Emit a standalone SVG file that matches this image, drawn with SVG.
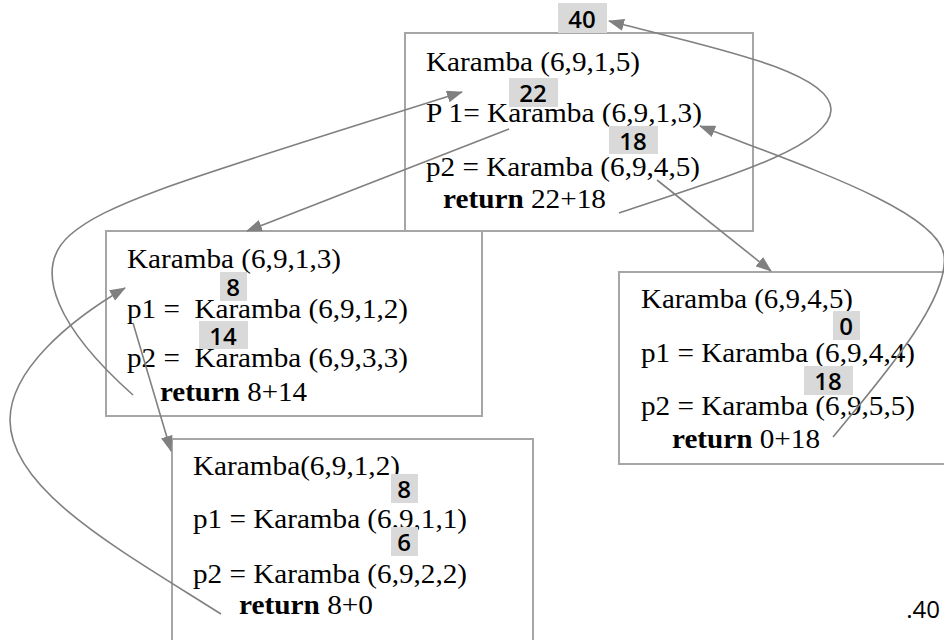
<svg xmlns="http://www.w3.org/2000/svg" width="944" height="640" viewBox="0 0 944 640">
<style>
.box{fill:#fff;stroke:#a6a6a6;stroke-width:2}
.t{font-family:"Liberation Serif","Times New Roman",serif;font-size:28px;fill:#000}
.b{font-weight:bold}
.lb{fill:#d9d9d9}
.lt{font-family:"Open Sans","DejaVu Sans",sans-serif;font-size:24px;font-weight:600;fill:#000;text-anchor:middle}
.c{fill:none;stroke:#808080;stroke-width:1.6;marker-end:url(#ah)}
</style>
<defs>
<marker id="ah" markerUnits="userSpaceOnUse" viewBox="0 0 16 12" refX="15" refY="6" markerWidth="16" markerHeight="12" orient="auto">
<path d="M0,0 L16,6 L0,12 z" fill="#808080"/>
</marker>
</defs>
<rect width="944" height="640" fill="#fff"/>

<g id="node-k1915">
<rect class="box" x="405" y="33" width="348" height="198"/>
<text class="t" x="426" y="71" textLength="214" lengthAdjust="spacingAndGlyphs">Karamba (6,9,1,5)</text>
<text class="t" x="426" y="122" textLength="276" lengthAdjust="spacingAndGlyphs">P 1= Karamba (6,9,1,3)</text>
<text class="t" x="426" y="176" textLength="274" lengthAdjust="spacingAndGlyphs">p2 = Karamba (6,9,4,5)</text>
<text class="t" x="443" y="208" textLength="163" lengthAdjust="spacingAndGlyphs"><tspan class="b">return</tspan> 22+18</text>
<rect class="lb" x="509" y="78" width="49" height="29"/>
<text class="lt" x="533" y="102">22</text>
<rect class="lb" x="609" y="126" width="49" height="28"/>
<text class="lt" x="633" y="150">18</text>
</g>

<g id="node-k1913">
<rect class="box" x="106" y="231" width="376" height="185"/>
<text class="t" x="127" y="268" textLength="214" lengthAdjust="spacingAndGlyphs">Karamba (6,9,1,3)</text>
<text class="t" x="127" y="318" textLength="281" lengthAdjust="spacingAndGlyphs" xml:space="preserve">p1 =  Karamba (6,9,1,2)</text>
<text class="t" x="127" y="367" textLength="281" lengthAdjust="spacingAndGlyphs" xml:space="preserve">p2 =  Karamba (6,9,3,3)</text>
<text class="t" x="160" y="401" textLength="147" lengthAdjust="spacingAndGlyphs"><tspan class="b">return</tspan> 8+14</text>
<rect class="lb" x="220" y="272" width="27" height="29"/>
<text class="lt" x="233" y="296">8</text>
<rect class="lb" x="199" y="321" width="49" height="28"/>
<text class="lt" x="223" y="345">14</text>
</g>

<g id="node-k1945">
<rect class="box" x="619" y="272" width="335" height="192"/>
<text class="t" x="641" y="308" textLength="212" lengthAdjust="spacingAndGlyphs">Karamba (6,9,4,5)</text>
<text class="t" x="641" y="362" textLength="274" lengthAdjust="spacingAndGlyphs">p1 = Karamba (6,9,4,4)</text>
<text class="t" x="641" y="415" textLength="274" lengthAdjust="spacingAndGlyphs">p2 = Karamba (6,9,5,5)</text>
<text class="t" x="672" y="448" textLength="148" lengthAdjust="spacingAndGlyphs"><tspan class="b">return</tspan> 0+18</text>
<rect class="lb" x="833" y="311" width="27" height="29"/>
<text class="lt" x="846" y="335">0</text>
<rect class="lb" x="804" y="366" width="49" height="29"/>
<text class="lt" x="828" y="390">18</text>
</g>

<g id="node-k1912">
<rect class="box" x="172" y="439" width="361" height="215"/>
<text class="t" x="193" y="475" textLength="207" lengthAdjust="spacingAndGlyphs">Karamba(6,9,1,2)</text>
<text class="t" x="193" y="528" textLength="274" lengthAdjust="spacingAndGlyphs">p1 = Karamba (6,9,1,1)</text>
<text class="t" x="193" y="583" textLength="274" lengthAdjust="spacingAndGlyphs">p2 = Karamba (6,9,2,2)</text>
<text class="t" x="239" y="614" textLength="134" lengthAdjust="spacingAndGlyphs"><tspan class="b">return</tspan> 8+0</text>
<rect class="lb" x="391" y="474" width="27" height="29"/>
<text class="lt" x="404" y="498">8</text>
<rect class="lb" x="391" y="527" width="27" height="29"/>
<text class="lt" x="404" y="551">6</text>
</g>

<g id="result">
<rect class="lb" x="558" y="3" width="49" height="30"/>
<text class="lt" x="582" y="28">40</text>
<text class="lt" x="923" y="618" style="font-weight:500">.40</text>
</g>

<g id="connectors">
<path class="c" d="M619,213 C700,185 830,150 831,110 C832,70 700,45 609,21"/>
<path class="c" d="M657,180 L771,271"/>
<path class="c" d="M833,437 C880,380 950,300 944,255 C938,210 800,165 700,126"/>
<path class="c" d="M509,129 L247,231"/>
<path class="c" d="M133,395 C60,330 30,270 70,235 C110,200 200,175 462,92"/>
<path class="c" d="M221,614 C120,550 10,490 10,420 C10,370 70,320 125,288"/>
<path class="c" d="M133,323 L171,451"/>
</g>
</svg>
